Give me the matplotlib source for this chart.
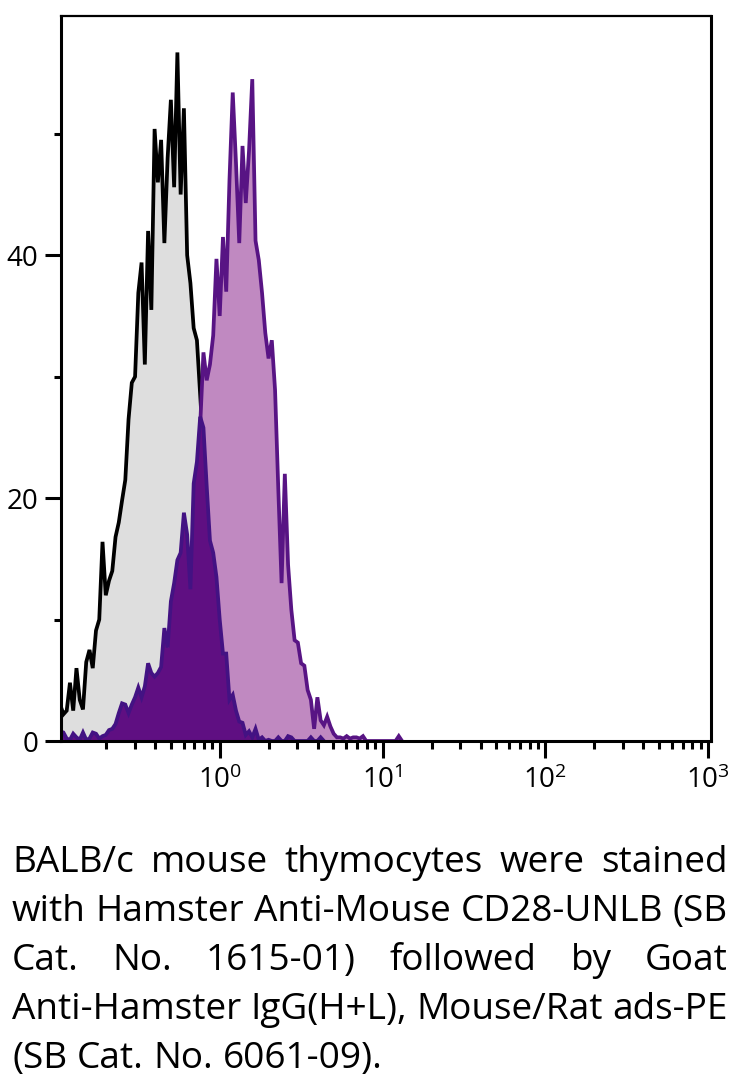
import numpy as np
import matplotlib
matplotlib.use("Agg")
import matplotlib.pyplot as plt
from matplotlib.ticker import FixedLocator, LogLocator, NullFormatter, FuncFormatter

FONT = "Open Sans"
plt.rcParams["font.family"] = [FONT, "DejaVu Sans"]
plt.rcParams["mathtext.fontset"] = "custom"
plt.rcParams["mathtext.rm"] = FONT
plt.rcParams["mathtext.it"] = FONT
plt.rcParams["mathtext.bf"] = FONT

# channels are equally spaced in log10(fluorescence)
LOG_START, LOG_STEP = -0.98, 0.02

# unstained cells (grey, black outline), starts at channel 0
unstained_first = 0
unstained_counts = [
    3.0, 2.2, 2.5, 4.8, 2.5, 6.0, 3.4, 2.6, 6.5, 7.5,
    6.0, 9.1, 10.0, 16.4, 12.0, 13.2, 14.0, 16.8, 18.0, 19.8,
    21.5, 26.5, 29.5, 30.0, 36.9, 39.4, 31.0, 42.0, 35.5, 50.4,
    46.0, 49.5, 41.0, 48.0, 52.8, 45.6, 56.7, 45.0, 52.1, 40.0,
    37.7, 34.0, 33.0, 28.5, 24.0, 19.0, 14.0, 10.0, 6.5, 4.0,
    2.5, 1.5, 0.8, 0.4, 0.0,
]

# secondary antibody only (dark purple), starts at channel 0
secondary_first = 0
secondary_counts = [
    0.8, 0.7, 0.2, 0.1, 0.6, 0.3, 0.1, 0.7, 0.1, 0.2,
    0.7, 0.6, 0.2, 0.4, 0.5, 0.9, 1.0, 1.4, 2.3, 3.1,
    3.0, 2.3, 3.0, 3.6, 4.4, 3.6, 4.5, 6.4, 5.6, 5.3,
    5.6, 6.1, 9.3, 7.7, 11.5, 13.0, 14.9, 15.5, 18.8, 17.0,
    12.5, 21.2, 23.0, 26.7, 25.8, 21.0, 16.5, 15.5, 13.5, 10.0,
    7.2, 7.2, 3.4, 3.8, 2.5, 1.6, 1.5, 0.5, 0.8, 0.3,
    1.0, 0.1, 0.3, 0.0, 0.1, 0.0, 0.0, 0.3, 0.0, 0.0,
    0.4, 0.3, 0.0, 0.0, 0.0, 0.0, 0.0, 0.3, 0.0, 0.0,
    0.3, 0.0,
]

# CD28-UNLB + anti-hamster PE (light purple), starts at channel 30
cd28_first = 30
cd28_counts = [
    0.3, 0.5, 0.8, 1.2, 1.8, 2.6, 3.8, 5.5, 8.0, 10.5,
    10.0, 16.0, 20.0, 26.0, 32.0, 29.7, 31.0, 33.4, 39.7, 35.0,
    41.5, 37.0, 46.2, 53.4, 47.6, 41.0, 49.0, 44.3, 48.6, 54.5,
    41.2, 39.6, 36.9, 33.6, 31.5, 33.0, 28.9, 20.7, 13.0, 22.0,
    14.5, 10.8, 8.3, 8.1, 6.4, 6.2, 4.2, 3.4, 1.0, 3.6,
    1.7, 1.3, 2.0, 1.2, 0.6, 0.3, 0.3, 0.2, 0.4, 0.2,
    0.3, 0.3, 0.2, 0.4, 0.0, 0.0, 0.0, 0.0, 0.0, 0.0,
    0.0, 0.0, 0.0, 0.0, 0.4, 0.0,
]

caption_lines = [
    "BALB/c mouse thymocytes were stained",
    "with Hamster Anti-Mouse CD28-UNLB (SB",
    "Cat. No. 1615-01) followed by Goat",
    "Anti-Hamster IgG(H+L), Mouse/Rat ads-PE",
    "(SB Cat. No. 6061-09).",
]

W, H = 739, 1079
fig = plt.figure(figsize=(W / 100, H / 100), dpi=100)
ax = fig.add_axes([61 / W, 1 - 741 / H, 650 / W, 725 / H])


def channels(first, counts):
    idx = first + np.arange(len(counts))
    return 10 ** (LOG_START + LOG_STEP * idx), np.asarray(counts)


LW = 2.7
x, y = channels(unstained_first, unstained_counts)
ax.fill_between(x, 0, y, color="#dedede", lw=0, zorder=1)
ax.plot(x, y, color="black", lw=LW, zorder=2, solid_joinstyle="miter")

x, y = channels(cd28_first, cd28_counts)
ax.fill_between(x, 0, y, color="#c089c1", lw=0, zorder=3)
ax.plot(x, y, color="#581484", lw=LW, zorder=4, solid_joinstyle="miter")

x, y = channels(secondary_first, secondary_counts)
ax.fill_between(x, 0, y, color="#5f0f82", lw=0, zorder=5)
ax.plot(x, y, color="#431283", lw=LW, zorder=6, solid_joinstyle="miter")

ax.set_xscale("log")
ax.set_xlim(10 ** -0.975, 10 ** 3.018)
ax.set_ylim(0, 59.7)

ax.xaxis.set_major_locator(FixedLocator([1, 10, 100, 1000]))
ax.xaxis.set_major_formatter(FuncFormatter(lambda v, p: r"$10^{%d}$" % round(np.log10(v))))
ax.xaxis.set_minor_locator(LogLocator(base=10, subs=np.arange(2, 10)))
ax.xaxis.set_minor_formatter(NullFormatter())
ax.yaxis.set_major_locator(FixedLocator([0, 20, 40]))
ax.yaxis.set_minor_locator(FixedLocator([10, 30, 50]))

ax.tick_params(axis="both", which="both", direction="out", width=2.2, colors="black",
               labelsize=20)
ax.tick_params(axis="y", which="major", length=11.5, pad=5)
ax.tick_params(axis="y", which="minor", length=5)
ax.tick_params(axis="x", which="major", length=12, pad=6)
ax.tick_params(axis="x", which="minor", length=5.5)

for side, sp in ax.spines.items():
    sp.set_linewidth(2.2 if side != "top" else 1.6)
    sp.set_color("black")
    sp.set_zorder(10)

# justified caption below the plot
fig.canvas.draw()
renderer = fig.canvas.get_renderer()


def text_width(s, size):
    t = fig.text(0, 0, s, fontsize=size)
    w = t.get_window_extent(renderer).width
    t.remove()
    return w


LEFT, RIGHT = 12, 728
span = RIGHT - LEFT
size = 20 * span / text_width(caption_lines[3], 20)
for line in caption_lines[:-1]:
    size = min(size, size * span / text_width(line, size))

baselines = [872, 921, 970, 1019, 1068]
for i, (line, base) in enumerate(zip(caption_lines, baselines)):
    words = line.split(" ")
    widths = [text_width(w, size) for w in words]
    if i == len(caption_lines) - 1:
        gap = text_width("a b", size) - text_width("ab", size)
    else:
        gap = (span - sum(widths)) / (len(words) - 1)
    xpos = LEFT
    for w, wd in zip(words, widths):
        fig.text(xpos / W, 1 - base / H, w, fontsize=size, va="baseline", ha="left")
        xpos += wd + gap

fig.savefig("out.png", dpi=100)
